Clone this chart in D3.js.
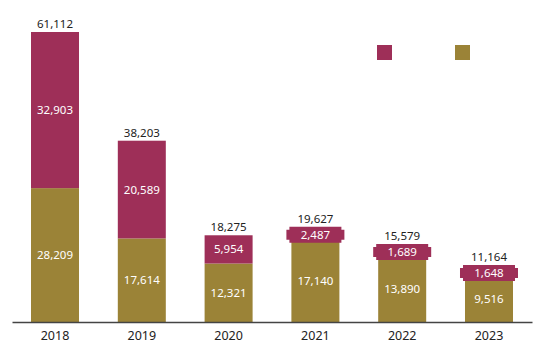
<!DOCTYPE html>
<html><head><meta charset="utf-8">
<script src="https://cdn.jsdelivr.net/npm/d3@7"></script>
<style>body{margin:0;background:#fff}svg{display:block}text{font-family:"Noto Sans",sans-serif}</style>
</head><body><svg id="c" width="553" height="346"></svg>
<script>
const years = ["2018","2019","2020","2021","2022","2023"];
const upper = [32903, 20589, 5954, 2487, 1689, 1648];
const lower = [28209, 17614, 12321, 17140, 13890, 9516];
const totals = [61112, 38203, 18275, 19627, 15579, 11164];
const colors = {upper:"#9E2F58", lower:"#9B8337"};

const svg = d3.select("#c");
const base = 322;
const x = d3.scaleBand().domain(years).range([12, 532]).paddingInner(0.447).paddingOuter(0.219);
const y = d3.scaleLinear().domain([0, 61112]).range([base, 32]);
const fmt = d3.format(",");

const data = years.map((yr,i)=>({yr, lo:lower[i], up:upper[i], tot:totals[i]}));

svg.selectAll(".lo").data(data).enter().append("rect")
  .attr("x", d=>x(d.yr)).attr("width", x.bandwidth())
  .attr("y", d=>y(d.lo)).attr("height", d=>base - y(d.lo))
  .attr("fill", colors.lower);
svg.selectAll(".up").data(data).enter().append("rect")
  .attr("x", d=>x(d.yr)).attr("width", x.bandwidth())
  .attr("y", d=>y(d.lo+d.up)).attr("height", d=>y(d.lo) - y(d.lo+d.up))
  .attr("fill", colors.upper);

data.forEach(d=>{
  const h = y(d.lo) - y(d.lo+d.up);
  if (h < 16) {
    const cy = (y(d.lo) + y(d.lo+d.up))/2;
    const x0 = x(d.yr) - 5, x1 = x(d.yr) + x.bandwidth() + 5;
    const y0 = cy - 8, y1 = cy + 8, n = 3;
    const pts = [[x0+n,y0],[x1-n,y0],[x1-n,y0+n],[x1,y0+n],[x1,y1-n],[x1-n,y1-n],[x1-n,y1],[x0+n,y1],[x0+n,y1-n],[x0,y1-n],[x0,y0+n],[x0+n,y0+n]];
    svg.append("polygon").attr("points", pts.map(p=>p.join(",")).join(" ")).attr("fill", colors.upper);
  }
});

svg.selectAll(".lol").data(data).enter().append("text")
  .attr("x", d=>x(d.yr)+x.bandwidth()/2).attr("y", d=>(base + y(d.lo))/2)
  .attr("dy","0.35em").attr("text-anchor","middle").attr("fill","#fff").attr("font-size",11.5)
  .text(d=>fmt(d.lo));
svg.selectAll(".upl").data(data).enter().append("text")
  .attr("x", d=>x(d.yr)+x.bandwidth()/2).attr("y", d=>(y(d.lo) + y(d.lo+d.up))/2)
  .attr("dy","0.35em").attr("text-anchor","middle").attr("fill","#fff").attr("font-size",11.5)
  .text(d=>fmt(d.up));
svg.selectAll(".tot").data(data).enter().append("text")
  .attr("x", d=>x(d.yr)+x.bandwidth()/2)
  .attr("y", d=>{const h = y(d.lo)-y(d.lo+d.up); return y(d.tot) - (h<16 ? Math.max(0, 8 - h/2) + 4 : 4);})
  .attr("text-anchor","middle").attr("fill","#222").attr("font-size",11.5)
  .text(d=>fmt(d.tot));

const ax = svg.append("g").attr("transform",`translate(0,${base})`).call(d3.axisBottom(x).tickSize(0).tickPadding(9));
ax.select(".domain").attr("stroke","#444").attr("stroke-width",1.5);
ax.selectAll("text").attr("font-size",12.5).attr("fill","#222").style("font-family",'"Noto Sans",sans-serif');

const legend = [{c:colors.upper, x:377},{c:colors.lower, x:455}];
svg.selectAll(".lg").data(legend).enter().append("rect")
  .attr("x", d=>d.x).attr("y", 45).attr("width",15).attr("height",15).attr("fill", d=>d.c);
</script></body></html>
